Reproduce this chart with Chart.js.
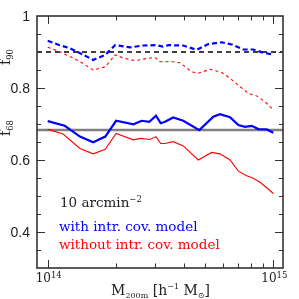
<!DOCTYPE html>
<html>
<head>
<meta charset="utf-8">
<script src="https://cdn.jsdelivr.net/npm/chart.js@4.4.0/dist/chart.umd.min.js"></script>
<style>
  html, body { margin: 0; padding: 0; background: #fff; }
  #wrap { width: 299px; height: 299px; }
</style>
</head>
<body>
<div id="wrap"><canvas id="myChart"></canvas></div>
<script>
// halo masses in units of 1e14 h^-1 Msun
const massF90With = [1.00, 1.13, 1.26, 1.42, 1.59, 1.80, 1.99, 2.32, 2.65, 3.04, 3.24, 3.43, 3.99, 4.58, 5.15, 5.91, 6.54, 7.36, 8.15, 9.03, 10.0];
const f90With     = [0.931, 0.919, 0.910, 0.894, 0.878, 0.892, 0.919, 0.913, 0.918, 0.919, 0.915, 0.919, 0.918, 0.906, 0.922, 0.927, 0.921, 0.907, 0.907, 0.898, 0.893];

const massF90Without = [1.00, 1.13, 1.26, 1.42, 1.59, 1.80, 1.99, 2.20, 2.44, 2.75, 2.99, 3.15, 3.55, 3.86, 4.35, 4.65, 5.24, 5.91, 6.43, 7.12, 7.75, 8.44, 9.19, 10.0];
const f90Without     = [0.913, 0.901, 0.887, 0.870, 0.850, 0.859, 0.892, 0.882, 0.876, 0.882, 0.885, 0.873, 0.873, 0.870, 0.845, 0.841, 0.852, 0.843, 0.827, 0.804, 0.785, 0.778, 0.762, 0.739];

const massF68With = [1.00, 1.19, 1.39, 1.59, 1.80, 2.01, 2.40, 2.61, 2.82, 3.02, 3.17, 3.31, 3.60, 3.99, 4.70, 5.42, 5.80, 6.43, 7.00, 7.49, 8.02, 8.58, 9.35, 10.0];
const f68With     = [0.708, 0.695, 0.665, 0.649, 0.665, 0.709, 0.699, 0.709, 0.706, 0.723, 0.702, 0.706, 0.718, 0.709, 0.683, 0.720, 0.727, 0.719, 0.697, 0.692, 0.695, 0.686, 0.685, 0.676];

const massF68Without = [1.00, 1.17, 1.39, 1.59, 1.80, 2.01, 2.40, 2.57, 2.84, 3.02, 3.17, 3.31, 3.60, 3.99, 4.65, 5.33, 5.80, 6.43, 7.00, 7.62, 8.15, 8.73, 9.35, 10.0];
const f68Without     = [0.685, 0.672, 0.632, 0.617, 0.630, 0.674, 0.656, 0.660, 0.657, 0.665, 0.646, 0.646, 0.651, 0.639, 0.600, 0.621, 0.617, 0.600, 0.569, 0.556, 0.549, 0.538, 0.523, 0.507];

// nominal coverage levels
const f90Nominal = 0.9;
const f68Nominal = 0.683;

const xMin = 0.8966e14, xMax = 11.04e14;
const yMin = 0.3, yMax = 1.0;
const yTickValues = [0.4, 0.6, 0.8, 1];
const yTickLabels = ['0.4', '0.6', '0.8', '1'];
const xTickExponents = [14, 15];

const SERIF = '"DejaVu Serif", serif';

function toPoints(mass, vals) {
    return mass.map((m, i) => ({x: m * 1e14, y: vals[i]}));
}

function partsWidth(ctx, parts) {
    let w = 0;
    for (const [t, s] of parts) {
        ctx.font = s + 'px ' + SERIF;
        w += ctx.measureText(t).width;
    }
    return w;
}
function drawParts(ctx, x, y, parts) {
    let cx = x;
    for (const [t, s, dy] of parts) {
        ctx.font = s + 'px ' + SERIF;
        ctx.fillText(t, cx, y + (dy || 0));
        cx += ctx.measureText(t).width;
    }
}

// frame, inward ticks and all the labels
const decor = {
    id: 'decor',
    afterDraw(chart) {
        const ctx = chart.ctx;
        const a = chart.chartArea;
        const xs = chart.scales.x, ys = chart.scales.y;
        ctx.save();
        ctx.strokeStyle = '#333';
        ctx.lineWidth = 1;
        ctx.beginPath();
        const n = Math.round((yMax - yMin) / 0.05);
        for (let i = 1; i < n; i++) {
            const v = yMin + i * 0.05;
            const major = yTickValues.some(t => Math.abs(t - v) < 1e-6);
            const len = major ? 8 : 4;
            const py = Math.round(ys.getPixelForValue(v)) + 0.5;
            ctx.moveTo(a.left, py); ctx.lineTo(a.left + len, py);
            ctx.moveTo(a.right, py); ctx.lineTo(a.right - len, py);
        }
        for (let m = 1; m <= 10; m++) {
            const major = (m == 1 || m == 10);
            const len = major ? 8 : 4.5;
            const px = Math.round(xs.getPixelForValue(m * 1e14)) + 0.5;
            ctx.moveTo(px, a.bottom); ctx.lineTo(px, a.bottom - len);
            ctx.moveTo(px, a.top); ctx.lineTo(px, a.top + len);
        }
        ctx.stroke();
        ctx.lineWidth = 1.6;
        ctx.strokeRect(a.left, a.top, a.right - a.left, a.bottom - a.top);

        // y tick labels
        ctx.fillStyle = '#222';
        ctx.font = '14px "Liberation Sans", sans-serif';
        ctx.textAlign = 'right';
        ctx.textBaseline = 'middle';
        yTickValues.forEach((v, i) => {
            ctx.fillText(yTickLabels[i], a.left - 7, ys.getPixelForValue(v) + 1);
        });

        ctx.textAlign = 'left';
        ctx.textBaseline = 'alphabetic';
        // x tick labels
        xTickExponents.forEach(e => {
            const parts = [['10', 12, 0], [String(e), 8.5, -4]];
            const w = partsWidth(ctx, parts);
            drawParts(ctx, xs.getPixelForValue(Math.pow(10, e)) - w / 2 + 1, 282, parts);
        });
        // x title
        const title = [['M', 14, 0], ['200m', 8, 3], [' [h', 14, 0], ['\u22121', 8, -6], [' M', 14, 0], ['\u2299', 8, 3], [']', 14, 0]];
        const tw = partsWidth(ctx, title);
        drawParts(ctx, 160.5 - tw / 2, 295, title);

        // rotated y labels
        [[f90Nominal, '90', 57], [f68Nominal, '68', 128]].forEach(([, sub, cy]) => {
            const parts = [['f', 14, 0], [sub, 8.5, 3]];
            const w = partsWidth(ctx, parts);
            ctx.save();
            ctx.translate(10, cy);
            ctx.rotate(-Math.PI / 2);
            drawParts(ctx, -w / 2, 0, parts);
            ctx.restore();
        });

        // annotations
        drawParts(ctx, 60, 207, [['10 arcmin', 13.5, 0], ['\u22122', 8.5, -5]]);
        ctx.fillStyle = '#0000ff';
        drawParts(ctx, 59, 231, [['with intr. cov. model', 13.5, 0]]);
        ctx.fillStyle = '#ff0000';
        drawParts(ctx, 59, 249, [['without intr. cov. model', 13.5, 0]]);
        ctx.restore();
    }
};

const lineDefaults = {pointRadius: 0, showLine: true, tension: 0, fill: false};

new Chart(document.getElementById('myChart').getContext('2d'), {
    type: 'scatter',
    data: {
        datasets: [
            Object.assign({data: toPoints(massF90With, f90With), borderColor: '#0000ff', borderWidth: 2.2, borderDash: [5, 3]}, lineDefaults),
            Object.assign({data: toPoints(massF68With, f68With), borderColor: '#0000ff', borderWidth: 2.2}, lineDefaults),
            Object.assign({data: toPoints(massF90Without, f90Without), borderColor: '#ff0000', borderWidth: 1.1, borderDash: [3, 3]}, lineDefaults),
            Object.assign({data: toPoints(massF68Without, f68Without), borderColor: '#ff0000', borderWidth: 1.1}, lineDefaults),
            Object.assign({data: [{x: xMin, y: f90Nominal}, {x: xMax, y: f90Nominal}], borderColor: '#000', borderWidth: 1.3, borderDash: [5, 4]}, lineDefaults),
            Object.assign({data: [{x: xMin, y: f68Nominal}, {x: xMax, y: f68Nominal}], borderColor: '#808080', borderWidth: 2.5}, lineDefaults)
        ]
    },
    options: {
        animation: false,
        responsive: true,
        maintainAspectRatio: false,
        events: [],
        layout: {padding: {left: 37, top: 16, right: 16, bottom: 31}},
        scales: {
            x: {type: 'logarithmic', min: xMin, max: xMax, display: false},
            y: {type: 'linear', min: yMin, max: yMax, display: false}
        },
        plugins: {legend: {display: false}, tooltip: {enabled: false}}
    },
    plugins: [decor]
});
</script>
</body>
</html>
